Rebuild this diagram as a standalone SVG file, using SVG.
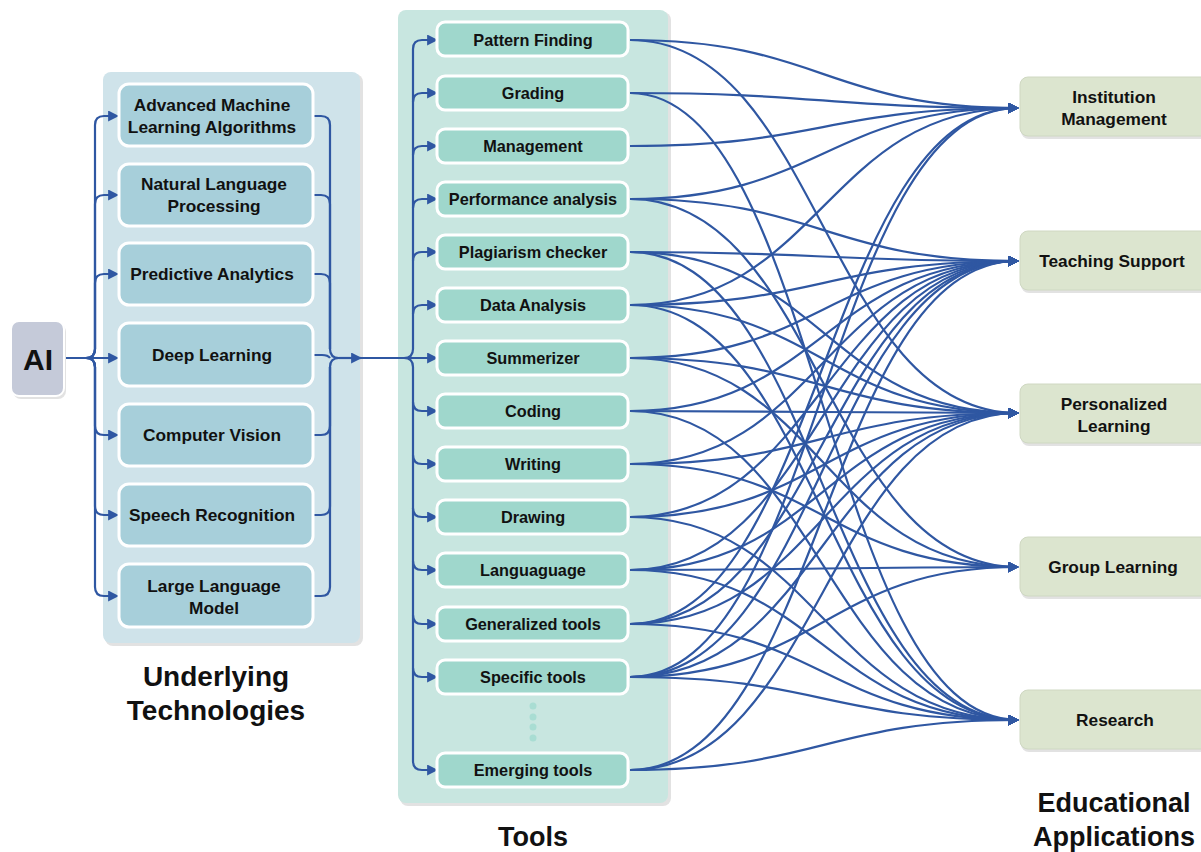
<svg xmlns="http://www.w3.org/2000/svg" width="1201" height="852" viewBox="0 0 1201 852">
<defs>
<marker id="ah" viewBox="0 0 10 10" refX="9" refY="5" markerWidth="11" markerHeight="11" markerUnits="userSpaceOnUse" orient="auto">
<path d="M0,0 L10,5 L0,10 z" fill="#2f57a2"/>
</marker>
<style>
.c{fill:none;stroke:#2f57a2;stroke-width:2.2}
.t{font-family:"Liberation Sans",Arial,sans-serif;font-weight:bold;fill:#111;text-anchor:middle}
.tech{fill:#a7cfda;stroke:#fff;stroke-width:3}
.tool{fill:#9fd7cc;stroke:#fff;stroke-width:3}
.app{fill:#dce5cf;stroke:#cfd8c2;stroke-width:1}
.sh{fill:#e2e2e2}
.dot{fill:#a9ddd3}
</style>
</defs>

<!-- panels -->
<g id="panel-tech">
<rect class="sh" x="105" y="74" width="258" height="572" rx="8"/>
<rect x="103" y="72" width="257" height="571" rx="8" fill="#cfe3ea"/>
</g>
<g id="panel-tools">
<rect class="sh" x="400" y="12" width="271" height="794" rx="8"/>
<rect x="398" y="10" width="270" height="793" rx="8" fill="#c8e6e0"/>
</g>

<!-- connectors -->
<g id="connectors">
<!-- AI to technologies -->
<path class="c" d="M64,358 H118" marker-end="url(#ah)"/>
<path class="c" d="M64,358 H86 Q95,358 95,349 V125 Q95,116 104,116 H118" marker-end="url(#ah)"/>
<path class="c" d="M86,358 Q95,358 95,349 V204 Q95,195 104,195 H118" marker-end="url(#ah)"/>
<path class="c" d="M86,358 Q95,358 95,349 V283 Q95,274 104,274 H118" marker-end="url(#ah)"/>
<path class="c" d="M86,358 Q95,358 95,367 V426 Q95,435 104,435 H118" marker-end="url(#ah)"/>
<path class="c" d="M86,358 Q95,358 95,367 V506 Q95,515 104,515 H118" marker-end="url(#ah)"/>
<path class="c" d="M86,358 Q95,358 95,367 V587 Q95,596 104,596 H118" marker-end="url(#ah)"/>
<!-- technologies merge -->
<path class="c" d="M314,116 H321 Q330,116 330,125 V349 Q330,358 339,358"/>
<path class="c" d="M314,195 H321 Q330,195 330,204 V349"/>
<path class="c" d="M314,274 H321 Q330,274 330,283 V349"/>
<path class="c" d="M314,355 H322 Q328,355 330,358"/>
<path class="c" d="M314,435 H321 Q330,435 330,426 V367"/>
<path class="c" d="M314,515 H321 Q330,515 330,506 V367"/>
<path class="c" d="M314,596 H321 Q330,596 330,587 V367 Q330,358 339,358"/>
<path class="c" d="M339,358 H361" marker-end="url(#ah)"/>
<path class="c" d="M361,358 H437" marker-end="url(#ah)"/>
<!-- branches to tools -->
<path class="c" d="M404,358 Q413,358 413,349 V49 Q413,40 422,40 H437" marker-end="url(#ah)"/>
<path class="c" d="M413,102 Q413,93 422,93 H437" marker-end="url(#ah)"/>
<path class="c" d="M413,155 Q413,146 422,146 H437" marker-end="url(#ah)"/>
<path class="c" d="M413,208 Q413,199 422,199 H437" marker-end="url(#ah)"/>
<path class="c" d="M413,261 Q413,252 422,252 H437" marker-end="url(#ah)"/>
<path class="c" d="M413,314 Q413,305 422,305 H437" marker-end="url(#ah)"/>
<path class="c" d="M404,358 Q413,358 413,367 V761 Q413,770 422,770 H437" marker-end="url(#ah)"/>
<path class="c" d="M413,402 Q413,411 422,411 H437" marker-end="url(#ah)"/>
<path class="c" d="M413,455 Q413,464 422,464 H437" marker-end="url(#ah)"/>
<path class="c" d="M413,508 Q413,517 422,517 H437" marker-end="url(#ah)"/>
<path class="c" d="M413,561 Q413,570 422,570 H437" marker-end="url(#ah)"/>
<path class="c" d="M413,615 Q413,624 422,624 H437" marker-end="url(#ah)"/>
<path class="c" d="M413,668 Q413,677 422,677 H437" marker-end="url(#ah)"/>
<!-- tools to applications -->
<g marker-end="url(#ah)">
<path class="c" d="M630,40 C820,40 826,108 1018,108"/>
<path class="c" d="M630,40 C820,40 826,413 1018,413"/>
<path class="c" d="M630,93 C820,93 826,108 1018,108"/>
<path class="c" d="M630,93 C820,93 826,720 1018,720"/>
<path class="c" d="M630,146 C820,146 826,108 1018,108"/>
<path class="c" d="M630,199 C820,199 826,108 1018,108"/>
<path class="c" d="M630,199 C820,199 826,261 1018,261"/>
<path class="c" d="M630,199 C820,199 826,567 1018,567"/>
<path class="c" d="M630,252 C820,252 826,261 1018,261"/>
<path class="c" d="M630,252 C820,252 826,413 1018,413"/>
<path class="c" d="M630,252 C820,252 826,720 1018,720"/>
<path class="c" d="M630,305 C820,305 826,108 1018,108"/>
<path class="c" d="M630,305 C820,305 826,261 1018,261"/>
<path class="c" d="M630,305 C820,305 826,413 1018,413"/>
<path class="c" d="M630,305 C820,305 826,720 1018,720"/>
<path class="c" d="M630,358 C820,358 826,261 1018,261"/>
<path class="c" d="M630,358 C820,358 826,413 1018,413"/>
<path class="c" d="M630,358 C820,358 826,567 1018,567"/>
<path class="c" d="M630,411 C820,411 826,261 1018,261"/>
<path class="c" d="M630,411 C820,411 826,413 1018,413"/>
<path class="c" d="M630,411 C820,411 826,720 1018,720"/>
<path class="c" d="M630,464 C820,464 826,261 1018,261"/>
<path class="c" d="M630,464 C820,464 826,413 1018,413"/>
<path class="c" d="M630,464 C820,464 826,567 1018,567"/>
<path class="c" d="M630,517 C820,517 826,261 1018,261"/>
<path class="c" d="M630,517 C820,517 826,413 1018,413"/>
<path class="c" d="M630,517 C820,517 826,720 1018,720"/>
<path class="c" d="M630,570 C820,570 826,261 1018,261"/>
<path class="c" d="M630,570 C820,570 826,413 1018,413"/>
<path class="c" d="M630,570 C820,570 826,567 1018,567"/>
<path class="c" d="M630,570 C820,570 826,720 1018,720"/>
<path class="c" d="M630,624 C820,624 826,108 1018,108"/>
<path class="c" d="M630,624 C820,624 826,261 1018,261"/>
<path class="c" d="M630,624 C820,624 826,413 1018,413"/>
<path class="c" d="M630,624 C820,624 826,720 1018,720"/>
<path class="c" d="M630,677 C820,677 826,108 1018,108"/>
<path class="c" d="M630,677 C820,677 826,261 1018,261"/>
<path class="c" d="M630,677 C820,677 826,413 1018,413"/>
<path class="c" d="M630,677 C820,677 826,567 1018,567"/>
<path class="c" d="M630,677 C820,677 826,720 1018,720"/>
<path class="c" d="M630,770 C820,770 826,261 1018,261"/>
<path class="c" d="M630,770 C820,770 826,413 1018,413"/>
<path class="c" d="M630,770 C820,770 826,720 1018,720"/>
</g>
</g>

<!-- AI -->
<g id="ai">
<rect class="sh" x="13" y="324" width="53" height="75" rx="8"/>
<rect x="11" y="321" width="53" height="75" rx="8" fill="#c5cad9" stroke="#fff" stroke-width="2"/>
<text class="t" x="38" y="370" font-size="30">AI</text>
</g>

<!-- technologies -->
<g id="tech-aml"><rect class="tech" x="119" y="84" width="194" height="62" rx="10"/><text class="t" x="212" y="111" font-size="17.3">Advanced Machine</text><text class="t" x="212" y="133" font-size="17.3">Learning Algorithms</text></g>
<g id="tech-nlp"><rect class="tech" x="119" y="164" width="194" height="62" rx="10"/><text class="t" x="214" y="190" font-size="17.3">Natural Language</text><text class="t" x="214" y="212" font-size="17.3">Processing</text></g>
<g id="tech-pa"><rect class="tech" x="119" y="243" width="194" height="62" rx="10"/><text class="t" x="212" y="280" font-size="17.3">Predictive Analytics</text></g>
<g id="tech-dl"><rect class="tech" x="119" y="323" width="194" height="63" rx="10"/><text class="t" x="212" y="361" font-size="17.3">Deep Learning</text></g>
<g id="tech-cv"><rect class="tech" x="119" y="404" width="194" height="62" rx="10"/><text class="t" x="212" y="441" font-size="17.3">Computer Vision</text></g>
<g id="tech-sr"><rect class="tech" x="119" y="484" width="194" height="62" rx="10"/><text class="t" x="212" y="521" font-size="17.3">Speech Recognition</text></g>
<g id="tech-llm"><rect class="tech" x="119" y="564" width="194" height="63" rx="10"/><text class="t" x="214" y="592" font-size="17.3">Large Language</text><text class="t" x="214" y="614" font-size="17.3">Model</text></g>
<text class="t" x="216" y="686" font-size="28">Underlying</text>
<text class="t" x="216" y="720" font-size="28">Technologies</text>

<!-- tools -->
<g id="tool-pf"><rect class="tool" x="437" y="22" width="191" height="34" rx="8"/><text class="t" x="533" y="45.5" font-size="16.3">Pattern Finding</text></g>
<g id="tool-grading"><rect class="tool" x="437" y="76" width="191" height="34" rx="8"/><text class="t" x="533" y="98.5" font-size="16.3">Grading</text></g>
<g id="tool-mgmt"><rect class="tool" x="437" y="129" width="191" height="34" rx="8"/><text class="t" x="533" y="151.5" font-size="16.3">Management</text></g>
<g id="tool-perf"><rect class="tool" x="437" y="182" width="191" height="34" rx="8"/><text class="t" x="533" y="204.5" font-size="16.3">Performance analysis</text></g>
<g id="tool-plag"><rect class="tool" x="437" y="235" width="191" height="34" rx="8"/><text class="t" x="533" y="257.5" font-size="16.3">Plagiarism checker</text></g>
<g id="tool-data"><rect class="tool" x="437" y="288" width="191" height="34" rx="8"/><text class="t" x="533" y="310.5" font-size="16.3">Data Analysis</text></g>
<g id="tool-summ"><rect class="tool" x="437" y="341" width="191" height="34" rx="8"/><text class="t" x="533" y="363.5" font-size="16.3">Summerizer</text></g>
<g id="tool-coding"><rect class="tool" x="437" y="394" width="191" height="34" rx="8"/><text class="t" x="533" y="416.5" font-size="16.3">Coding</text></g>
<g id="tool-writing"><rect class="tool" x="437" y="447" width="191" height="34" rx="8"/><text class="t" x="533" y="469.5" font-size="16.3">Writing</text></g>
<g id="tool-drawing"><rect class="tool" x="437" y="500" width="191" height="34" rx="8"/><text class="t" x="533" y="522.5" font-size="16.3">Drawing</text></g>
<g id="tool-lang"><rect class="tool" x="437" y="553" width="191" height="34" rx="8"/><text class="t" x="533" y="575.5" font-size="16.3">Languaguage</text></g>
<g id="tool-gen"><rect class="tool" x="437" y="607" width="191" height="34" rx="8"/><text class="t" x="533" y="629.5" font-size="16.3">Generalized tools</text></g>
<g id="tool-spec"><rect class="tool" x="437" y="660" width="191" height="34" rx="8"/><text class="t" x="533" y="682.5" font-size="16.3">Specific tools</text></g>
<g id="tool-dots"><circle class="dot" cx="533" cy="706" r="3.5"/><circle class="dot" cx="533" cy="717" r="3.5"/><circle class="dot" cx="533" cy="727" r="3.5"/><circle class="dot" cx="533" cy="738" r="3.5"/></g>
<g id="tool-emerging"><rect class="tool" x="437" y="753" width="191" height="34" rx="8"/><text class="t" x="533" y="775.5" font-size="16.3">Emerging tools</text></g>
<text class="t" x="533" y="846" font-size="27">Tools</text>

<!-- applications -->
<g id="app-im"><rect class="sh" x="1021" y="80" width="190" height="59" rx="8"/><rect class="app" x="1020" y="77" width="190" height="59" rx="8"/><text class="t" x="1114" y="103" font-size="17.3">Institution</text><text class="t" x="1114" y="125" font-size="17.3">Management</text></g>
<g id="app-ts"><rect class="sh" x="1021" y="234" width="190" height="59" rx="8"/><rect class="app" x="1020" y="231" width="190" height="59" rx="8"/><text class="t" x="1112" y="267" font-size="17.3">Teaching Support</text></g>
<g id="app-pl"><rect class="sh" x="1021" y="387" width="190" height="59" rx="8"/><rect class="app" x="1020" y="384" width="190" height="59" rx="8"/><text class="t" x="1114" y="410" font-size="17.3">Personalized</text><text class="t" x="1114" y="432" font-size="17.3">Learning</text></g>
<g id="app-gl"><rect class="sh" x="1021" y="540" width="190" height="59" rx="8"/><rect class="app" x="1020" y="537" width="190" height="59" rx="8"/><text class="t" x="1113" y="573" font-size="17.3">Group Learning</text></g>
<g id="app-research"><rect class="sh" x="1021" y="693" width="190" height="59" rx="8"/><rect class="app" x="1020" y="690" width="190" height="59" rx="8"/><text class="t" x="1115" y="726" font-size="17.3">Research</text></g>
<text class="t" x="1114" y="812" font-size="27">Educational</text>
<text class="t" x="1114" y="846" font-size="27">Applications</text>
</svg>
